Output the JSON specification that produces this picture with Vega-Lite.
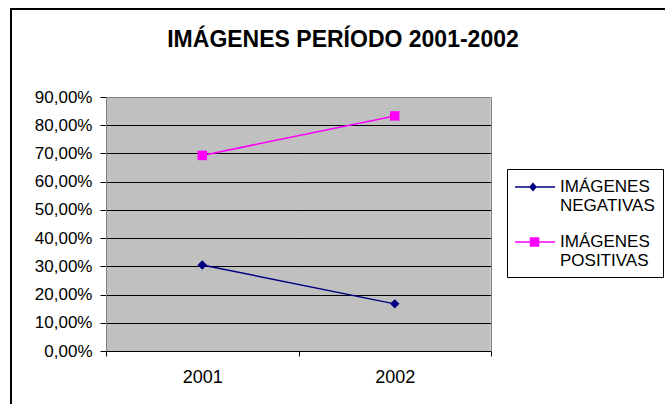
{
  "$schema": "https://vega.github.io/schema/vega-lite/v6.json",
  "autosize": {"type": "none"},
  "width": 657,
  "height": 398,
  "padding": {"left": 11, "top": 9, "right": -3, "bottom": -3},
  "background": "white",
  "title": {
    "text": "IMÁGENES PERÍODO 2001-2002",
    "font": "Liberation Sans",
    "fontSize": 23,
    "fontWeight": "bold",
    "color": "black",
    "anchor": "middle",
    "frame": "group",
    "baseline": "alphabetic",
    "offset": -61,
    "dx": 3.5
  },
  "data": {
    "values": [
      {"year": "2001", "series": "IMÁGENES NEGATIVAS", "value": 0.305},
      {"year": "2002", "series": "IMÁGENES NEGATIVAS", "value": 0.167},
      {"year": "2001", "series": "IMÁGENES POSITIVAS", "value": 0.693},
      {"year": "2002", "series": "IMÁGENES POSITIVAS", "value": 0.833}
    ]
  },
  "layer": [
    {
      "encoding": {
        "x": {
          "field": "year", "type": "ordinal",
          "scale": {"type": "band", "range": [95, 480], "paddingInner": 0, "paddingOuter": 0},
          "axis": {
            "orient": "bottom", "offset": -56, "title": null, "grid": false,
            "tickBand": "extent", "tickSize": 5, "tickColor": "black", "tickWidth": 1,
            "domainColor": "black", "domainWidth": 1,
            "labelFont": "Liberation Sans", "labelFontSize": 18, "labelColor": "black",
            "labelPadding": 12, "labelAngle": 0
          }
        },
        "y": {
          "field": "value", "type": "quantitative",
          "scale": {"domain": [0, 0.9], "range": [342, 88], "nice": false, "zero": true},
          "axis": {
            "orient": "left", "offset": -95, "title": null,
            "values": [0, 0.1, 0.2, 0.3, 0.4, 0.5, 0.6, 0.7, 0.8, 0.9],
            "labelExpr": "replace(format(datum.value, '.2%'), '.', ',')",
            "grid": true,
            "gridColor": {"condition": {"test": "datum.value >= 0.89", "value": "#808080"}, "value": "black"},
            "gridWidth": 1,
            "tickSize": 6, "tickColor": "black", "tickWidth": 1,
            "domainColor": "#808080", "domainWidth": 1,
            "labelFont": "Liberation Sans", "labelFontSize": 17, "labelColor": "black",
            "labelPadding": 8
          }
        },
        "color": {
          "field": "series", "type": "nominal",
          "scale": {"domain": ["IMÁGENES NEGATIVAS", "IMÁGENES POSITIVAS"], "range": ["#000080", "#FF00FF"]},
          "legend": null
        }
      },
      "layer": [
        {"mark": {"type": "line", "strokeWidth": 1.5}},
        {
          "transform": [{"filter": "datum.series === 'IMÁGENES NEGATIVAS'"}],
          "mark": {"type": "point", "filled": true, "opacity": 1, "size": 90, "shape": "diamond"}
        },
        {
          "transform": [{"filter": "datum.series === 'IMÁGENES POSITIVAS'"}],
          "mark": {"type": "point", "filled": true, "opacity": 1, "size": 90, "shape": "square"}
        }
      ]
    },
    {
      "mark": {"type": "point", "opacity": 0, "filled": true},
      "encoding": {
        "x": {
          "field": "year", "type": "ordinal",
          "scale": {"type": "band", "range": [95, 480], "paddingInner": 0, "paddingOuter": 0},
          "axis": {
            "orient": "top", "offset": -88, "title": null,
            "labels": false, "ticks": false, "domain": false,
            "grid": true, "gridColor": "#C0C0C0", "gridWidth": 192.5, "gridCap": "butt", "gridOpacity": 1
          }
        },
        "y": {
          "field": "value", "type": "quantitative",
          "scale": {"domain": [0, 0.9], "range": [342, 88], "nice": false, "zero": true},
          "axis": {
            "orient": "right", "offset": -177, "title": null,
            "labels": false, "ticks": false, "grid": false,
            "domain": true, "domainColor": "#808080", "domainWidth": 1
          }
        },
        "color": {
          "field": "series", "type": "nominal",
          "legend": {
            "orient": "none", "legendX": 496, "legendY": 160, "title": null,
            "strokeColor": "black", "fillColor": "white", "padding": 8,
            "labelFont": "Liberation Sans", "labelFontSize": 17, "labelColor": "black",
            "labelExpr": "split(datum.label, ' ')",
            "labelLimit": 300, "labelOffset": 25,
            "symbolSize": 400, "rowPadding": 18,
            "symbolOpacity": 1, "symbolStrokeWidth": 0
          }
        },
        "shape": {
          "field": "series", "type": "nominal",
          "scale": {
            "domain": ["IMÁGENES NEGATIVAS", "IMÁGENES POSITIVAS"],
            "range": [
              "M-1,-0.075L3,-0.075L3,0.075L-1,0.075ZM0.4,0L0.8,-0.45L1.2,0L0.8,0.45Z",
              "M-1,-0.075L3,-0.075L3,0.075L-1,0.075ZM0.475,-0.475L1.425,-0.475L1.425,0.475L0.475,0.475Z"
            ]
          },
          "legend": {
            "orient": "none", "legendX": 496, "legendY": 160, "title": null,
            "strokeColor": "black", "fillColor": "white", "padding": 8,
            "labelFont": "Liberation Sans", "labelFontSize": 17, "labelColor": "black",
            "labelExpr": "split(datum.label, ' ')",
            "labelLimit": 300, "labelOffset": 25,
            "symbolSize": 400, "rowPadding": 18,
            "symbolOpacity": 1, "symbolStrokeWidth": 0
          }
        }
      }
    }
  ],
  "resolve": {"axis": {"x": "independent", "y": "independent"}, "legend": {"color": "independent", "shape": "independent"}},
  "config": {
    "font": "Liberation Sans",
    "view": {"stroke": "black", "strokeWidth": 2, "fill": "white"}
  }
}
